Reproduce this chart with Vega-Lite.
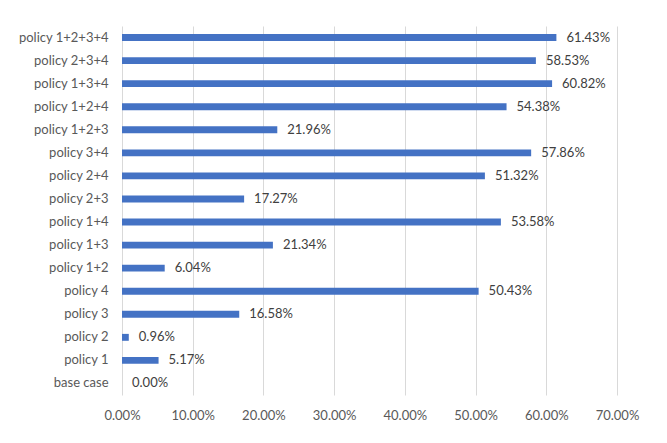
{
  "$schema": "https://vega.github.io/schema/vega-lite/v6.json",
  "width": 495,
  "height": 369,
  "autosize": {"type": "none"},
  "padding": {"left": 122, "top": 26, "right": 50, "bottom": 48},
  "background": "white",
  "config": {"view": {"stroke": null}, "font": "Lato"},
  "data": {"values": [
    {"case": "policy 1+2+3+4", "v": 0.6143},
    {"case": "policy 2+3+4", "v": 0.5853},
    {"case": "policy 1+3+4", "v": 0.6082},
    {"case": "policy 1+2+4", "v": 0.5438},
    {"case": "policy 1+2+3", "v": 0.2196},
    {"case": "policy 3+4", "v": 0.5786},
    {"case": "policy 2+4", "v": 0.5132},
    {"case": "policy 2+3", "v": 0.1727},
    {"case": "policy 1+4", "v": 0.5358},
    {"case": "policy 1+3", "v": 0.2134},
    {"case": "policy 1+2", "v": 0.0604},
    {"case": "policy 4", "v": 0.5043},
    {"case": "policy 3", "v": 0.1658},
    {"case": "policy 2", "v": 0.0096},
    {"case": "policy 1", "v": 0.0517},
    {"case": "base case", "v": 0.0}
  ]},
  "encoding": {
    "y": {"field": "case", "type": "nominal", "sort": null,
      "scale": {"paddingInner": 0.7, "paddingOuter": 0.35},
      "axis": {"title": null, "domain": false, "ticks": false, "labelPadding": 14, "labelFontSize": 13, "labelColor": "#595959", "labelFont": "Lato"}},
    "x": {"field": "v", "type": "quantitative",
      "scale": {"domain": [0, 0.7], "nice": false},
      "axis": {"title": null, "format": ".2%", "values": [0, 0.1, 0.2, 0.3, 0.4, 0.5, 0.6, 0.7], "domain": false, "ticks": false, "grid": true, "gridColor": "#d9d9d9", "labelFlush": false, "labelOverlap": false, "labelPadding": 14, "labelFontSize": 13, "labelColor": "#595959", "labelFont": "Lato"}}
  },
  "layer": [
    {"mark": {"type": "bar", "color": "#4472C4"}},
    {"mark": {"type": "text", "align": "left", "baseline": "middle", "dx": 10, "fontSize": 13, "color": "#404040", "font": "Lato"},
     "encoding": {"text": {"field": "v", "type": "quantitative", "format": ".2%"}}}
  ]
}
